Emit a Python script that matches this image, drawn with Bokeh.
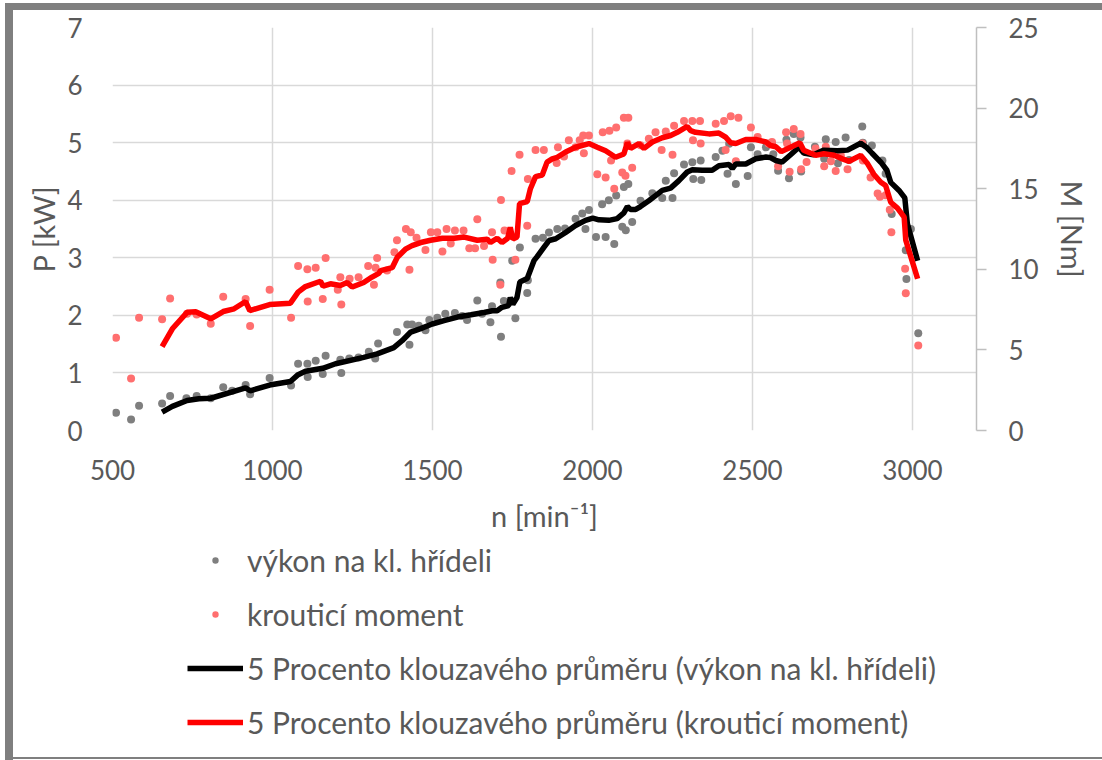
from bokeh.plotting import figure
from bokeh.layouts import column
from bokeh.models import Range1d, LinearAxis, FixedTicker, Legend, LegendItem
from bokeh.embed import file_html
from bokeh.resources import INLINE

# ---------------- data ----------------
power_n = [511, 558, 583, 655, 680, 731, 763, 807, 846, 874, 916, 930, 991, 1058,
           1080, 1109, 1110, 1135, 1157, 1166, 1212, 1215, 1240, 1269, 1301, 1321,
           1330, 1389, 1421, 1428, 1436, 1457, 1478, 1490, 1515, 1540, 1570, 1593,
           1608, 1640, 1655, 1681, 1686, 1712, 1714, 1723, 1749, 1759, 1773, 1796,
           1798, 1822, 1845, 1864, 1890, 1914, 1947, 1968, 1978, 1989, 2011, 2030,
           2041, 2051, 2068, 2074, 2093, 2098, 2104, 2112, 2124, 2150, 2187, 2218,
           2229, 2250, 2255, 2286, 2312, 2315, 2338, 2340, 2385, 2406, 2422, 2427,
           2448, 2485, 2495, 2516, 2542, 2561, 2565, 2580, 2606, 2614, 2629, 2650,
           2652, 2695, 2724, 2729, 2760, 2767, 2791, 2802, 2843, 2845, 2873, 2906,
           2916, 2935, 2979, 2981, 2995, 3018]
power_kw = [0.31, 0.19, 0.43, 0.47, 0.60, 0.56, 0.60, 0.56, 0.75, 0.69, 0.79, 0.63,
            0.91, 0.78, 1.16, 1.16, 0.93, 1.21, 0.98, 1.30, 1.23, 1.00, 1.25, 1.27,
            1.37, 1.25, 1.51, 1.71, 1.84, 1.49, 1.84, 1.82, 1.74, 1.92, 1.96, 2.03,
            2.04, 1.99, 1.92, 2.26, 2.03, 1.88, 2.16, 2.57, 1.63, 2.25, 2.95, 1.95,
            3.18, 2.39, 2.61, 3.33, 3.35, 3.44, 3.50, 3.51, 3.68, 3.77, 3.50, 3.83,
            3.36, 3.93, 3.36, 4.00, 3.24, 4.08, 3.54, 4.23, 3.48, 4.28, 3.62, 3.99,
            4.12, 4.04, 4.34, 4.04, 4.47, 4.62, 4.66, 4.37, 4.69, 4.35, 4.75, 4.86,
            4.46, 4.98, 4.28, 4.42, 4.92, 4.80, 4.92, 4.98, 4.80, 4.51, 5.05, 4.38,
            5.15, 5.09, 4.50, 4.93, 4.72, 5.06, 5.01, 4.64, 5.09, 4.70, 5.28, 5.00,
            4.95, 4.69, 4.46, 3.76, 3.13, 2.63, 3.50, 1.69]

torque_n = [511, 558, 583, 655, 680, 733, 763, 807, 846, 916, 930, 991, 1058, 1080,
            1109, 1110, 1135, 1157, 1166, 1204, 1212, 1215, 1241, 1269, 1299, 1317,
            1322, 1327, 1358, 1381, 1389, 1417, 1428, 1432, 1450, 1478, 1495, 1515,
            1531, 1544, 1557, 1570, 1597, 1615, 1633, 1640, 1661, 1686, 1688, 1712,
            1714, 1725, 1747, 1759, 1772, 1796, 1798, 1822, 1848, 1888, 1892, 1911,
            1926, 1947, 1960, 1971, 1973, 1989, 2015, 2032, 2041, 2053, 2058, 2068,
            2074, 2093, 2098, 2103, 2109, 2112, 2124, 2150, 2176, 2197, 2216, 2229,
            2250, 2255, 2286, 2312, 2314, 2336, 2338, 2385, 2411, 2416, 2432, 2448,
            2456, 2495, 2516, 2550, 2561, 2580, 2605, 2608, 2616, 2629, 2650, 2652,
            2669, 2697, 2724, 2729, 2745, 2760, 2776, 2797, 2843, 2845, 2869, 2891,
            2898, 2916, 2929, 2934, 2977, 2979, 3018]
torque_nm = [5.75, 3.22, 7.0, 6.9, 8.19, 7.24, 7.2, 6.62, 8.29, 8.15, 6.49, 8.73,
             7.0, 10.2, 10.0, 8.0, 10.1, 8.15, 10.7, 8.73, 9.5, 7.82, 9.42, 9.5,
             10.2, 9.04, 10.1, 10.7, 9.92, 11.06, 11.8, 12.5, 9.97, 12.3, 11.95,
             11.2, 12.3, 12.3, 11.1, 12.5, 11.6, 12.4, 12.4, 11.3, 11.3, 13.1, 11.45,
             12.3, 10.6, 9.04, 14.3, 12.4, 16.1, 10.6, 17.1, 12.7, 15.6, 17.4, 17.4,
             16.6, 17.57, 17.0, 18.0, 17.57, 18.0, 18.3, 17.2, 18.3, 15.9, 18.5, 15.7,
             18.6, 16.75, 15.0, 18.8, 16.0, 19.4, 15.8, 17.8, 19.4, 16.3, 17.7, 18.1,
             18.5, 17.4, 18.55, 17.1, 18.9, 19.2, 19.2, 18.0, 19.2, 17.8, 19.03, 19.2,
             17.4, 19.5, 16.7, 19.4, 18.8, 18.2, 17.8, 17.9, 16.4, 18.5, 17.8, 16.05,
             18.7, 18.4, 16.2, 16.65, 17.5, 16.4, 17.6, 16.7, 16.1, 17.07, 16.2, 17.8,
             16.75, 15.7, 14.7, 14.5, 14.6, 13.7, 12.3, 10.03, 8.52, 5.27]

ma_power_n = [655, 687, 733, 770, 807, 916, 930, 991, 1056, 1080, 1103, 1157, 1197,
              1285, 1327, 1379, 1405, 1432, 1463, 1499, 1536, 1578, 1620, 1661, 1687,
              1702, 1717, 1738, 1743, 1751, 1764, 1773, 1796, 1817, 1827, 1848, 1864,
              1885, 1916, 1947, 1978, 2001, 2020, 2051, 2077, 2098, 2109, 2119, 2135,
              2150, 2176, 2197, 2218, 2244, 2270, 2296, 2312, 2343, 2374, 2395, 2427,
              2437, 2448, 2479, 2510, 2542, 2556, 2573, 2592, 2619, 2645, 2660, 2691,
              2723, 2765, 2797, 2838, 2858, 2873, 2901, 2920, 2932, 2958, 2976, 2984,
              3016]
ma_power_kw = [0.32, 0.42, 0.52, 0.55, 0.56, 0.74, 0.69, 0.79, 0.85, 0.97, 1.03, 1.08,
               1.16, 1.27, 1.33, 1.44, 1.56, 1.71, 1.77, 1.85, 1.91, 1.97, 2.01, 2.05,
               2.08, 2.08, 2.14, 2.17, 2.31, 2.19, 2.31, 2.58, 2.64, 2.95, 3.02, 3.18,
               3.30, 3.33, 3.44, 3.56, 3.65, 3.69, 3.66, 3.65, 3.68, 3.78, 3.89, 3.84,
               3.84, 3.89, 3.99, 4.08, 4.17, 4.21, 4.34, 4.49, 4.53, 4.52, 4.52, 4.60,
               4.62, 4.55, 4.63, 4.63, 4.72, 4.75, 4.74, 4.69, 4.66, 4.79, 4.92, 4.82,
               4.79, 4.87, 4.86, 4.87, 4.99, 4.91, 4.82, 4.66, 4.52, 4.31, 4.17, 4.04,
               3.59, 2.95]

ma_torque_n = [655, 687, 733, 760, 807, 846, 880, 916, 929, 991, 1056, 1080, 1103,
               1150, 1158, 1181, 1212, 1233, 1249, 1285, 1311, 1332, 1338, 1374, 1390,
               1417, 1436, 1463, 1494, 1531, 1568, 1599, 1640, 1671, 1681, 1702, 1717,
               1735, 1743, 1751, 1764, 1772, 1796, 1806, 1822, 1843, 1858, 1874, 1890,
               1916, 1947, 1989, 2015, 2041, 2072, 2098, 2109, 2119, 2145, 2161, 2187,
               2218, 2244, 2265, 2296, 2307, 2322, 2364, 2395, 2416, 2432, 2448, 2479,
               2510, 2542, 2556, 2573, 2590, 2619, 2648, 2660, 2697, 2723, 2755, 2781,
               2802, 2838, 2858, 2879, 2901, 2916, 2932, 2953, 2974, 2979, 3016]
ma_torque_nm = [5.21, 6.31, 7.33, 7.36, 6.93, 7.38, 7.55, 8.0, 7.44, 7.81, 7.9, 8.58,
                8.93, 9.26, 8.95, 9.1, 9.0, 9.18, 8.9, 9.18, 9.52, 9.75, 9.92, 10.1,
                10.75, 11.27, 11.47, 11.66, 11.8, 11.93, 11.93, 12.0, 11.8, 11.87, 11.66,
                11.93, 11.66, 11.93, 12.6, 11.87, 12.0, 14.07, 14.2, 15.0, 15.75, 15.85,
                16.65, 16.85, 16.95, 17.28, 17.57, 17.8, 17.57, 17.35, 16.95, 17.15,
                17.87, 17.5, 17.8, 17.5, 17.9, 18.16, 18.3, 18.5, 18.86, 18.6, 18.5,
                18.4, 18.45, 18.2, 17.85, 17.8, 18.05, 18.05, 17.9, 17.68, 17.6, 17.3,
                17.57, 17.85, 17.38, 17.07, 17.17, 17.07, 16.85, 16.7, 17.07, 16.6,
                15.9, 15.4, 15.2, 14.16, 13.8, 13.23, 11.8, 9.41]

x_ticks = [500, 1000, 1500, 2000, 2500, 3000]
p_ticks = [0, 1, 2, 3, 4, 5, 6, 7]
m_ticks = [0, 5, 10, 15, 20, 25]

labels = ["výkon na kl. hřídeli", "krouticí moment",
          "5 Procento klouzavého průměru (výkon na kl. hřídeli)",
          "5 Procento klouzavého průměru (krouticí moment)"]

FONT = "Lato"
TICK_FS = "26px"
LABEL_FS = "29px"
LEG_FS = "30px"
TXT = "#595959"
GRID = "#d9d9d9"
FRAME = "#7f7f7f"
GREY_DOT = "#7f7f7f"
RED_DOT = "#ff6f6f"

TOP_H = 542
LEG_H = 760 - TOP_H

# ---------------- main chart ----------------
p = figure(width=1102, height=TOP_H,
           x_range=Range1d(500, 3200), y_range=Range1d(0, 7),
           output_backend="svg", toolbar_location=None,
           min_border_left=112, min_border_right=126, min_border_top=27,
           min_border_bottom=TOP_H - 430)
p.extra_y_ranges = {"M": Range1d(0, 25)}
p.outline_line_color = None
p.background_fill_color = "white"
p.border_fill_alpha = 0
p.styles = {
    "background":
        f"linear-gradient({FRAME},{FRAME}) 5px 3px / 8px {TOP_H}px no-repeat, "
        f"linear-gradient({FRAME},{FRAME}) 5px 3px / 1097px 7px no-repeat, white"
}

p.xgrid.ticker = FixedTicker(ticks=x_ticks)
p.ygrid.ticker = FixedTicker(ticks=p_ticks)
for g in (p.xgrid, p.ygrid):
    g.grid_line_color = GRID
    g.grid_line_width = 1.5

xa = p.xaxis[0]
xa.ticker = FixedTicker(ticks=x_ticks)
xa.axis_label = "n [min\u207b\u00b9]"
ya = p.yaxis[0]
ya.ticker = FixedTicker(ticks=p_ticks)
ya.axis_label = "P [kW]"
ra = LinearAxis(y_range_name="M", ticker=FixedTicker(ticks=m_ticks), axis_label="M [Nm]")
p.add_layout(ra, "right")

for ax in (xa, ya, ra):
    ax.major_label_text_font = FONT
    ax.major_label_text_font_size = TICK_FS
    ax.major_label_text_color = TXT
    ax.axis_label_text_font = FONT
    ax.axis_label_text_font_size = LABEL_FS
    ax.axis_label_text_color = TXT
    ax.axis_label_text_font_style = "normal"
    ax.minor_tick_line_color = None
    ax.major_tick_in = 0

for ax in (xa, ya):
    ax.axis_line_color = None
    ax.major_tick_line_color = None
    ax.major_tick_out = 0
xa.major_label_standoff = 29
xa.axis_label_standoff = 15
ya.major_label_standoff = 30
ya.axis_label_standoff = 3

ra.axis_line_color = "#bfbfbf"
ra.axis_line_width = 1.5
ra.major_tick_line_color = "#bfbfbf"
ra.major_tick_line_width = 1.5
ra.major_tick_out = 10
ra.major_label_standoff = 22
ra.axis_label_standoff = 13

p.scatter(power_n, power_kw, size=8, color=GREY_DOT, line_color=None)
p.scatter(torque_n, torque_nm, size=8, color=RED_DOT, line_color=None,
          y_range_name="M")
p.line(ma_power_n, ma_power_kw, line_width=5.5, color="black")
p.line(ma_torque_n, ma_torque_nm, line_width=5.5, color="#ff0000", y_range_name="M")

# ---------------- legend strip below the chart ----------------
# (its frame is aligned with the chart frame by the column layout)
q = figure(width=1102, height=LEG_H, x_range=Range1d(0, 1), y_range=Range1d(0, 1),
           output_backend="svg", toolbar_location=None,
           x_axis_location=None, y_axis_location=None, min_border=0)
q.grid.visible = False
q.outline_line_color = None
q.background_fill_alpha = 0
q.border_fill_alpha = 0
q.styles = {
    "background":
        f"linear-gradient({FRAME},{FRAME}) 5px 0px / 8px {LEG_H}px no-repeat, "
        f"linear-gradient({FRAME},{FRAME}) 5px {LEG_H - 3}px / 1097px 2px no-repeat, white"
}
# legend-key renderers: their single point lies outside the strip's range
g1 = q.scatter([5], [5], size=8, color=GREY_DOT, line_color=None)
g2 = q.scatter([5], [5], size=8, color=RED_DOT, line_color=None)
g3 = q.line([5, 6], [5, 6], line_width=5.5, color="black")
g4 = q.line([5, 6], [5, 6], line_width=5.5, color="#ff0000")

legend = Legend(items=[LegendItem(label=labels[0], renderers=[g1]),
                       LegendItem(label=labels[1], renderers=[g2]),
                       LegendItem(label=labels[2], renderers=[g3]),
                       LegendItem(label=labels[3], renderers=[g4])],
                location=(75, LEG_H - 198), orientation="vertical",
                glyph_width=56, glyph_height=16, label_height=36, spacing=18,
                padding=0, margin=0, label_standoff=4,
                border_line_color=None, background_fill_alpha=0,
                label_text_font=FONT, label_text_font_size=LEG_FS,
                label_text_color=TXT)
q.add_layout(legend)

layout = column(p, q, spacing=0)
open("out.html", "w").write(file_html(layout, INLINE))
